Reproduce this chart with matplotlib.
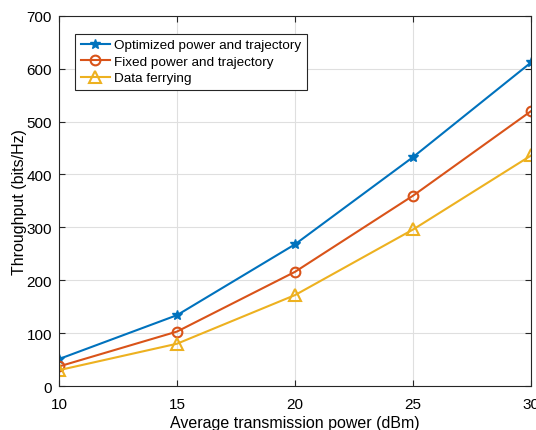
import numpy as np
import matplotlib.pyplot as plt

plt.rcParams["font.family"] = ["Liberation Sans", "DejaVu Sans"]

power = [10, 15, 20, 25, 30]
optimized = [51, 134, 268, 433, 612]
fixed = [37, 103, 216, 360, 520]
ferrying = [30, 80, 172, 296, 436]

fig = plt.figure(figsize=(5.36, 4.31), dpi=100)
ax = fig.add_axes([0.110, 0.102, 0.881, 0.859])

ax.plot(power, optimized, marker='*', ms=7, lw=1.5, color="#0072BD",
        label="Optimized power and trajectory")
ax.plot(power, fixed, marker='o', ms=7, mfc='none', mew=1.5, lw=1.5, color="#D95319",
        label="Fixed power and trajectory")
ax.plot(power, ferrying, marker='^', ms=8, mfc='none', mew=1.5, lw=1.5, color="#EDB120",
        label="Data ferrying")

ax.set_xlim(10, 30)
ax.set_ylim(0, 700)
ax.set_xticks(np.arange(10, 31, 5))
ax.set_yticks(np.arange(0, 701, 100))
ax.grid(True, color="#dfdfdf", lw=0.8)
ax.set_axisbelow(True)
ax.tick_params(direction='in', top=True, right=True, labelsize=11, length=4, color="#262626")
ax.tick_params(axis='x', pad=8)
ax.tick_params(axis='y', pad=5)
for s in ax.spines.values():
    s.set_color("#262626")
    s.set_linewidth(0.8)

ax.set_xlabel("Average transmission power (dBm)", fontsize=11.5, labelpad=3)
ax.set_ylabel("Throughput (bits/Hz)", fontsize=11.5, labelpad=0)

leg = ax.legend(loc='upper left', bbox_to_anchor=(0.02, 0.97), fontsize=9.7, fancybox=False,
                edgecolor='#262626', framealpha=1, handlelength=2.2, borderpad=0.4,
                labelspacing=0.3, handletextpad=0.3)
leg.get_frame().set_linewidth(0.8)

fig.savefig("out.png")
